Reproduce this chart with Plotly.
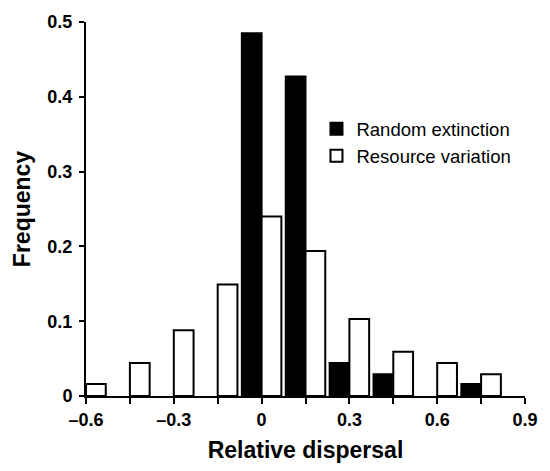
import plotly.graph_objects as go

bins = [-0.6, -0.45, -0.3, -0.15, 0.0, 0.15, 0.3, 0.45, 0.6, 0.75]
random_extinction = [0, 0, 0, 0, 0.485, 0.427, 0.044, 0.029, 0, 0.016]
resource_variation = [0.016, 0.044, 0.088, 0.149, 0.24, 0.194, 0.103, 0.059, 0.044, 0.029]

tick_vals = [-0.6, -0.45, -0.3, -0.15, 0.0, 0.15, 0.3, 0.45, 0.6, 0.75, 0.9]
tick_text = ["\u20130.6", "", "\u20130.3", "", "0", "", "0.3", "", "0.6", "", "0.9"]
y_ticks = [0, 0.1, 0.2, 0.3, 0.4, 0.5]
y_text = ["0", "0.1", "0.2", "0.3", "0.4", "0.5"]


def drop_zero(vals):
    # empty bins are not drawn in the reference
    return [v if v > 0 else None for v in vals]


fig = go.Figure()
fig.add_trace(go.Bar(x=bins, y=drop_zero(random_extinction), name="Random extinction",
                     marker=dict(color="black", line=dict(color="black", width=2))))
fig.add_trace(go.Bar(x=bins, y=drop_zero(resource_variation), name="Resource variation",
                     marker=dict(color="white", line=dict(color="black", width=2))))

font_family = "Liberation Sans, Arial, Helvetica, sans-serif"
fig.update_layout(
    width=550, height=471,
    margin=dict(l=86, r=16, t=19, b=67),
    paper_bgcolor="white", plot_bgcolor="white",
    barmode="group", bargap=0.1, bargroupgap=0,
    hovermode=False,
    font=dict(family=font_family, color="black"),
    showlegend=True,
    legend=dict(x=0.525, y=0.764, xanchor="left", yanchor="top",
                bgcolor="rgba(0,0,0,0)", font=dict(size=18.5, family=font_family),
                tracegroupgap=0, itemclick=False, traceorder="normal"),
    xaxis=dict(range=[-0.6, 0.9], tickvals=tick_vals, ticktext=tick_text,
               showgrid=False, zeroline=False, showline=True, linecolor="black", linewidth=2,
               ticks="outside", ticklen=6, tickwidth=2, tickcolor="black",
               tickfont=dict(size=18, family=font_family, weight="bold"),
               title=dict(text="<b>Relative dispersal</b>", font=dict(size=23), standoff=13)),
    yaxis=dict(range=[0, 0.5], tickvals=y_ticks, ticktext=y_text,
               showgrid=False, zeroline=False, showline=True, linecolor="black", linewidth=2,
               ticks="outside", ticklen=5, tickwidth=2, tickcolor="black",
               ticklabelstandoff=3,
               tickfont=dict(size=18, family=font_family, weight="bold"),
               title=dict(text="<b>Frequency</b>", font=dict(size=23), standoff=10)),
)
fig.write_html("out.html",
               config={"displayModeBar": False, "staticPlot": True},
               post_script="document.body.style.margin='0';document.body.style.overflow='hidden';")
